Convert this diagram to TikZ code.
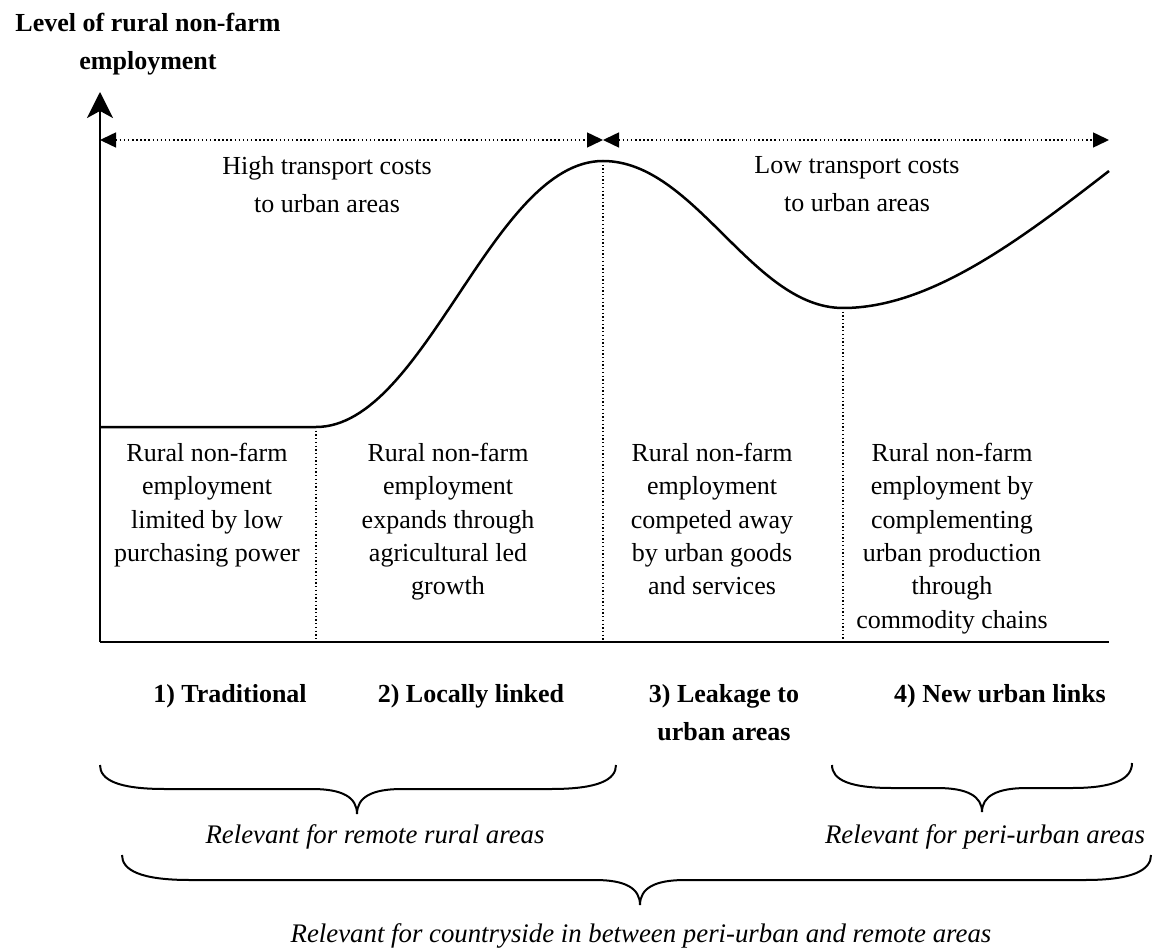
\documentclass[tikz,border=0pt]{standalone}
\usepackage{fontspec}
\setmainfont{Liberation Serif}
\usetikzlibrary{arrows.meta}
\begin{document}
\begin{tikzpicture}[x=1pt,y=-1pt,
  txt/.style={font=\fontsize{26}{33.3}\selectfont, align=center, inner sep=0pt},
  bld/.style={font=\fontsize{26}{38}\selectfont\bfseries, align=center, inner sep=0pt},
  itl/.style={font=\fontsize{26.8}{31}\selectfont\itshape, inner sep=0pt},
  axisline/.style={line width=2.2pt},
  curveline/.style={line width=2.5pt},
  dotline/.style={line width=1.3pt, dash pattern=on 1.3pt off 2.4pt},
  dotarrow/.style={line width=1.5pt, dash pattern=on 1.5pt off 2.6pt,
    {Triangle[length=16pt,width=15pt]}-{Triangle[length=16pt,width=15pt]}},
  bracestyle/.style={line width=2pt},
]
\useasboundingbox (0,0) rectangle (1153,949);

% axes
\coordinate (O) at (100,642);
\coordinate (Ytop) at (100,92);
\coordinate (Xend) at (1109,642);
\draw[axisline, -{Stealth[length=26pt,width=26pt,inset=7pt]}] (O) -- (Ytop);
\draw[axisline] (O) -- (Xend);

% dotted range arrows
\coordinate (Dl) at (100,140);
\coordinate (Dm) at (603,140);
\coordinate (Dr) at (1109,140);
\draw[dotarrow] (Dl) -- (Dm);
\draw[dotarrow] (Dm) -- (Dr);

% curve
\coordinate (A) at (100,427);
\coordinate (B) at (316,427);
\coordinate (P) at (603,161);
\coordinate (M) at (843,308);
\coordinate (E) at (1109,171);
\draw[curveline] (A) -- (B) .. controls (425,427) and (492,161) .. (P)
  .. controls (695,161) and (752,308) .. (M)
  .. controls (930,308) and (1020,240) .. (E);

% dotted verticals
\coordinate (Bb) at (316,642);
\coordinate (Pb) at (603,642);
\coordinate (Mb) at (843,642);
\draw[dotline] (B) -- (Bb);
\draw[dotline] (P) -- (Pb);
\draw[dotline] (M) -- (Mb);

% title
\node[bld, anchor=north] (title) at (148,13) {Level of rural non-farm\\employment};

% transport labels
\node[txt, anchor=north, font=\fontsize{26}{38}\selectfont] (high) at (327,156) {High transport costs\\to urban areas};
\node[txt, anchor=north, font=\fontsize{26}{38}\selectfont] (low) at (857,156) {Low transport costs\\to urban areas};

% box texts
\node[txt, anchor=north] (b1) at (207,443) {Rural non-farm\\employment\\limited by low\\purchasing power};
\node[txt, anchor=north] (b2) at (448,443) {Rural non-farm\\employment\\expands through\\agricultural led\\growth};
\node[txt, anchor=north] (b3) at (712,443) {Rural non-farm\\employment\\competed away\\by urban goods\\and services};
\node[txt, anchor=north] (b4) at (952,443) {Rural non-farm\\employment by\\complementing\\urban production\\through\\commodity chains};

% stage labels
\node[bld, anchor=base] (s1) at (230,702) {1) Traditional};
\node[bld, anchor=base] (s2) at (471,702) {2) Locally linked};
\node[bld, anchor=north] (s3) at (724,684) {3) Leakage to\\urban areas};
\node[bld, anchor=base] (s4) at (1000,702) {4) New urban links};

% braces
\draw[bracestyle] (100,765) .. controls (100,780) and (118,789) .. (165,789)
  -- (312,789) .. controls (342,789) and (357,797) .. (357,814)
  .. controls (357,797) and (372,789) .. (402,789)
  -- (551,789) .. controls (598,789) and (616,780) .. (616,765);
\draw[bracestyle] (832,765) .. controls (832,780) and (850,788) .. (892,788)
  -- (937,788) .. controls (967,788) and (982,796) .. (982,812)
  .. controls (982,796) and (997,788) .. (1027,788)
  -- (1072,788) .. controls (1114,788) and (1132,779) .. (1132,763);
\draw[bracestyle] (122,855) .. controls (122,870) and (140,880) .. (190,880)
  -- (595,880) .. controls (625,880) and (640,888) .. (640,905)
  .. controls (640,888) and (655,880) .. (685,880)
  -- (1085,880) .. controls (1133,880) and (1151,870) .. (1151,855);

% brace labels
\node[itl, anchor=base] (r1) at (375,843) {Relevant for remote rural areas};
\node[itl, anchor=base] (r2) at (985,843) {Relevant for peri-urban areas};
\node[itl, anchor=base] (r3) at (641,942) {Relevant for countryside in between peri-urban and remote areas};
\end{tikzpicture}
\end{document}
